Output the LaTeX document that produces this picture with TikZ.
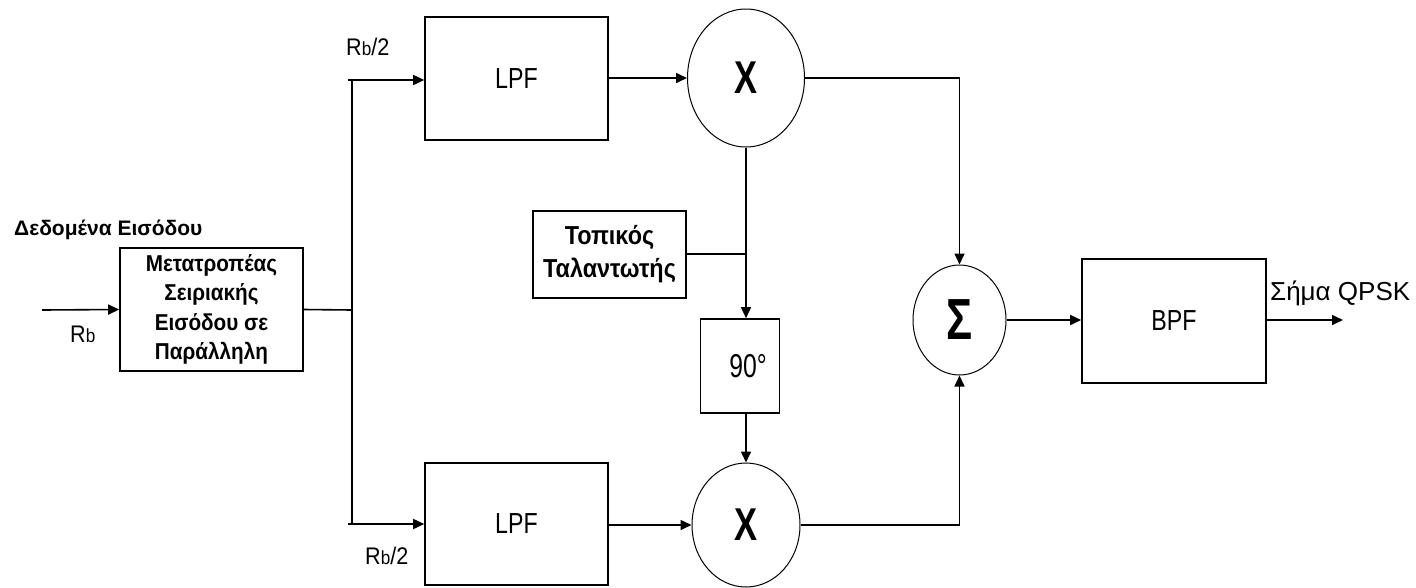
\documentclass[tikz,border=0pt]{standalone}
\usepackage{fontspec}
\setmainfont{Liberation Sans}
\newfontfamily\nar[FakeStretch=0.8]{Liberation Sans}
\newfontfamily\narb[FakeStretch=0.9]{Liberation Sans}
\newfontfamily\narc[FakeStretch=0.75]{Liberation Sans}
\usetikzlibrary{shapes.geometric,arrows.meta}
\tikzset{
  blk/.style={draw,line width=1.6pt,rectangle,inner sep=0pt},
  mix/.style={draw,line width=1pt,ellipse,inner sep=0pt},
  wire/.style={line width=1.6pt},
  arr/.style={line width=1.6pt,-{Triangle[length=11pt,width=10pt]}},
  lbl/.style={inner sep=0pt,font=\narb\fontsize{24}{26}\selectfont},
  sym/.style={font=\narc\bfseries\fontsize{46}{48}\selectfont},
}
\newcommand{\subb}{{\fontsize{19}{20}\selectfont b}}
\begin{document}
\begin{tikzpicture}[x=1pt,y=-1pt]
\useasboundingbox (0,0) rectangle (1416,587);
% blocks
\node[blk,minimum width=183pt,minimum height=123pt,align=center,
  font=\narb\bfseries\fontsize{23}{29.5}\selectfont] (conv) at (211.5,309.5)
  {Μετατροπέας\\Σειριακής\\Εισόδου σε\\Παράλληλη};
\node[blk,minimum width=183pt,minimum height=123pt,font=\nar\fontsize{29}{30}\selectfont] (lpf1) at (516.5,78.5) {LPF};
\node[blk,minimum width=183pt,minimum height=122pt,font=\nar\fontsize{29}{30}\selectfont] (lpf2) at (516.5,524) {LPF};
\node[mix,minimum width=117pt,minimum height=138pt,sym] (mul1) at (746,78) {X};
\node[mix,minimum width=108pt,minimum height=124pt,sym] (mul2) at (746,525) {X};
\node[blk,minimum width=153pt,minimum height=87pt,align=center,
  font=\narb\bfseries\fontsize{26}{33}\selectfont] (osc) at (609.5,254.5) {Τοπικός\\Ταλαντωτής};
\node[blk,minimum width=79pt,minimum height=94pt] (ph) at (740,366) {};
\node[inner sep=0pt,font=\narc\fontsize{33}{35}\selectfont] at (748,366) {90°};
\node[mix,minimum width=93pt,minimum height=110pt,font=\narc\bfseries\fontsize{58}{60}\selectfont] (sum) at (959.5,320) {Σ};
\node[blk,minimum width=184pt,minimum height=124pt,font=\nar\fontsize{29}{30}\selectfont] (bpf) at (1174,321) {BPF};
% coordinates
\coordinate (in) at (42,310);
\coordinate (out) at (1343,320);
\coordinate (jt) at (348,80);
\coordinate (jb) at (348,524);
\coordinate (split) at (352,310);
\coordinate (osj) at (746,254);
\coordinate (sumt) at (959.5,78);
\coordinate (sumb) at (959.5,525);
% connectors
\draw[arr] (in) -- (conv.west);
\draw[wire] (conv.east) -- (split);
\draw[wire] (352,80) -- (352,524);
\draw[arr] (jt) -- (lpf1.west |- jt);
\draw[arr] (jb) -- (lpf2.west |- jb);
\draw[arr] (lpf1.east |- mul1) -- (mul1.west);
\draw[arr] (lpf2.east |- mul2) -- (mul2.west);
\draw[wire] (mul1.south) -- (osj);
\draw[wire] (osc.east |- osj) -- (osj);
\draw[arr] (osj) -- (osj |- ph.north);
\draw[arr] (ph.south -| osj) -- (mul2.north);
\draw[wire] (mul1.east) -- (sumt);
\draw[arr] (sumt) -- (sum.north);
\draw[wire] (mul2.east) -- (sumb);
\draw[arr] (sumb) -- (sum.south);
\draw[arr] (sum.east) -- (bpf.west |- sum);
\draw[arr] (bpf.east |- out) -- (out);
% labels
\node[inner sep=0pt,font=\bfseries\fontsize{21}{22}\selectfont,anchor=base west] (din) at (14,235) {Δεδομένα Εισόδου};
\node[lbl,anchor=base west] (rb) at (70,342) {R\subb};
\node[lbl,anchor=base west] (rb1) at (346,55) {R\subb/2};
\node[lbl,anchor=base west] (rb2) at (365,564) {R\subb/2};
\node[inner sep=0pt,anchor=base west,font=\fontsize{26}{28}\selectfont] (outl) at (1270,300) {Σήμα QPSK};
\end{tikzpicture}
\end{document}
